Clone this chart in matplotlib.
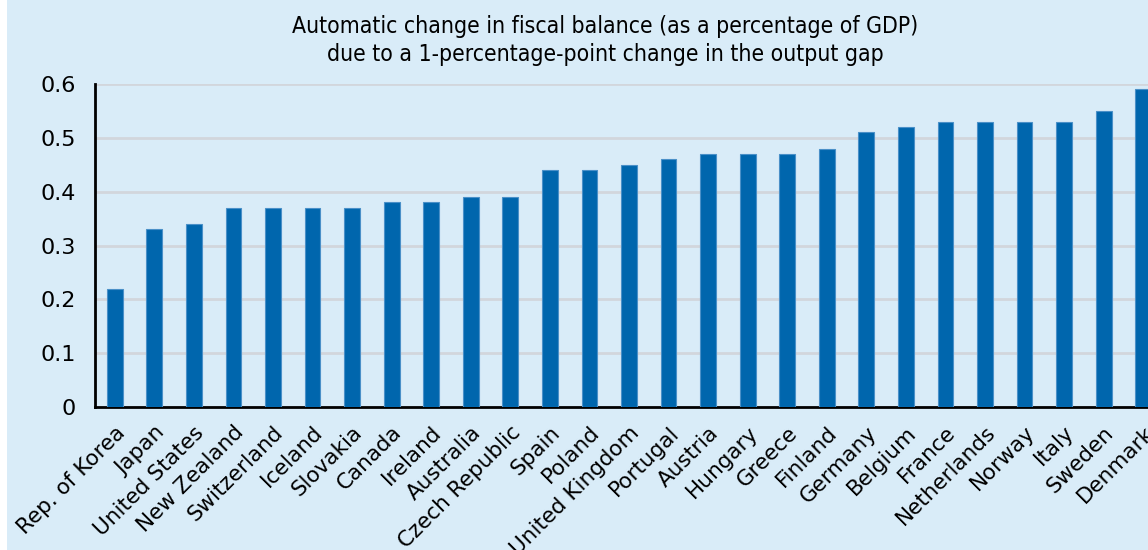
import matplotlib.pyplot as plt
from matplotlib.patches import Rectangle

countries = ['Rep. of Korea', 'Japan', 'United States', 'New Zealand', 'Switzerland',
             'Iceland', 'Slovakia', 'Canada', 'Ireland', 'Australia', 'Czech Republic',
             'Spain', 'Poland', 'United Kingdom', 'Portugal', 'Austria', 'Hungary',
             'Greece', 'Finland', 'Germany', 'Belgium', 'France', 'Netherlands',
             'Norway', 'Italy', 'Sweden', 'Denmark']
values = [0.22, 0.33, 0.34, 0.37, 0.37, 0.37, 0.37, 0.38, 0.38, 0.39, 0.39,
          0.44, 0.44, 0.45, 0.46, 0.47, 0.47, 0.47, 0.48, 0.51, 0.52, 0.53,
          0.53, 0.53, 0.53, 0.55, 0.59]
yticks = [0, 0.1, 0.2, 0.3, 0.4, 0.5, 0.6]

bg = '#d9ecf8'
bar_col = '#0066ad'

fig = plt.figure(figsize=(11.48, 5.5), dpi=100)
fig.patch.set_facecolor('white')
fig.patches.append(Rectangle((7 / 1148, 0), 1, 1, transform=fig.transFigure,
                             facecolor=bg, edgecolor='none', zorder=-10))

ax = fig.add_axes([95 / 1148, 1 - 407 / 550, 1 - 95 / 1148, 323 / 550])
ax.patch.set_alpha(0)

x = list(range(len(countries)))
ax.bar(x, values, width=0.4, color=bar_col, edgecolor='#4a90c8', linewidth=0.8, zorder=3)

ax.set_xlim(-0.5, 26.12)
ax.set_ylim(0, 0.6)
ax.set_yticks(yticks)
ax.set_yticklabels(['0' if v == 0 else f'{v:.1f}' for v in yticks], fontsize=16)
ax.tick_params(axis='y', length=0, pad=14)
ax.tick_params(axis='x', length=0, pad=11)
ax.set_xticks(x)
ax.set_xticklabels(countries, rotation=45, ha='right', va='top',
                   rotation_mode='anchor', fontsize=15.5)

for v in yticks[1:]:
    ax.axhline(v, color='#d2d6dc', linewidth=2, zorder=1)

for s in ['top', 'right']:
    ax.spines[s].set_visible(False)
ax.spines['left'].set_linewidth(2)
ax.spines['bottom'].set_linewidth(2)

title_font = dict(ha='center', va='center', fontsize=16.5, fontstretch='condensed',
                  family=['Liberation Sans Narrow', 'DejaVu Sans'])
fig.text(605 / 1148, 1 - 27 / 550,
         'Automatic change in fiscal balance (as a percentage of GDP)', **title_font)
fig.text(605 / 1148, 1 - 55 / 550,
         'due to a 1-percentage-point change in the output gap', **title_font)

fig.savefig('out.png', dpi=100, facecolor=fig.get_facecolor())
